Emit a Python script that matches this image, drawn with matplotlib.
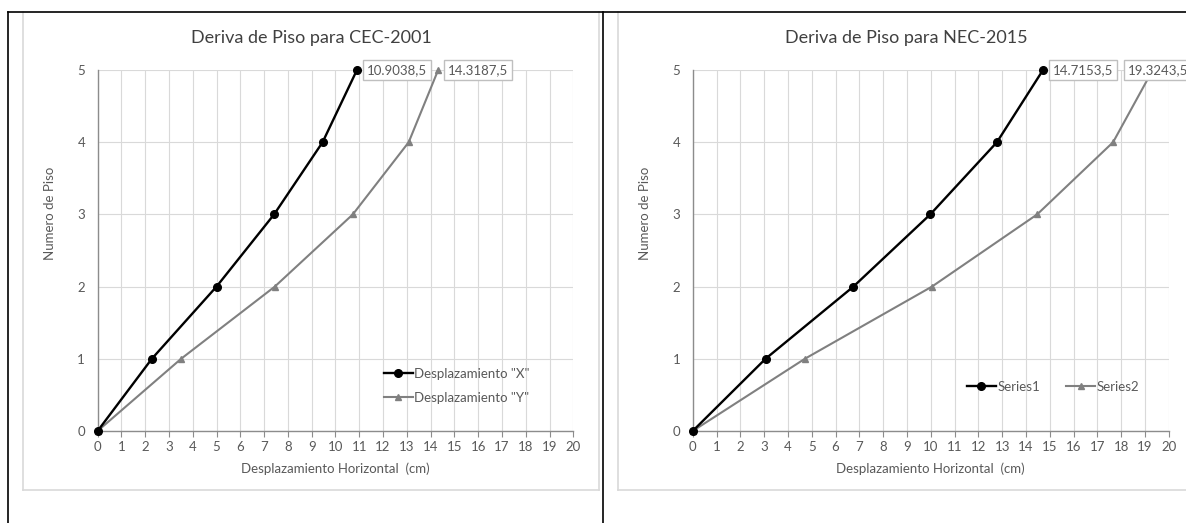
import numpy as np
import matplotlib.pyplot as plt
from matplotlib.lines import Line2D

plt.rcParams['font.family'] = ['Lato', 'DejaVu Sans']

# Pisos y desplazamientos (cm)
pisos = [0, 1, 2, 3, 4, 5]
cec_x = [0, 2.28, 5.0, 7.42, 9.46, 10.9038]
cec_y = [0, 3.51, 7.45, 10.73, 13.08, 14.3187]
nec_1 = [0, 3.06, 6.75, 9.98, 12.78, 14.7153]
nec_2 = [0, 4.71, 10.05, 14.47, 17.66, 19.3243]

titulos = ['Deriva de Piso para CEC-2001', 'Deriva de Piso para NEC-2015']
leyendas = [['Desplazamiento "X"', 'Desplazamiento "Y"'], ['Series1', 'Series2']]

GRIS_TXT = '#595959'
GRIS_EJE = '#8c8c8c'
GRIS_GRID = '#d9d9d9'

W, H = 1186, 523
fig = plt.figure(figsize=(W / 100, H / 100), dpi=100)

# marcos exteriores y cajas del grafico (en pixeles de la figura)
def px_line(x0, y0, x1, y1, color, lw):
    fig.add_artist(Line2D([x0 / W, x1 / W], [1 - y0 / H, 1 - y1 / H],
                          transform=fig.transFigure, color=color, lw=lw))

px_line(23, 12, 23, 490, GRIS_GRID, 1.2)
px_line(23, 490, 599, 490, GRIS_GRID, 1.2)
px_line(599, 12, 599, 490, GRIS_GRID, 1.2)
px_line(618, 12, 618, 490, GRIS_GRID, 1.2)
px_line(618, 490, W, 490, GRIS_GRID, 1.2)
px_line(8, 12, W, 12, 'black', 1.2)
px_line(8, 12, 8, H, 'black', 1.2)
px_line(603, 12, 603, H, 'black', 1.2)

ax1 = fig.add_axes([97.6 / W, 1 - 431 / H, 475.7 / W, 361 / H])
ax2 = fig.add_axes([692.7 / W, 1 - 431 / H, 476.1 / W, 361 / H])

datos = [(ax1, cec_x, cec_y, [(7, 0), (7, 0)]),
         (ax2, nec_1, nec_2, [(7, 0), (-28, 0)])]

for i, (ax, s1, s2, offs) in enumerate(datos):
    ax.plot(s1, pisos, color='black', lw=1.7, marker='o', ms=5.5,
            label=leyendas[i][0], zorder=4, clip_on=False)
    ax.plot(s2, pisos, color='#808080', lw=1.5, marker='^', ms=5,
            label=leyendas[i][1], zorder=3, clip_on=False)

    ax.set_xlim(0, 20)
    ax.set_ylim(0, 5)
    ax.set_xticks(np.arange(0, 21, 1))
    ax.set_yticks(np.arange(0, 6, 1))
    ax.grid(True, color=GRIS_GRID, lw=0.8)
    ax.set_axisbelow(True)
    for s in ['top', 'right']:
        ax.spines[s].set_visible(False)
    for s in ['left', 'bottom']:
        ax.spines[s].set_color(GRIS_EJE)
        ax.spines[s].set_linewidth(1.0)
    ax.tick_params(axis='x', direction='out', length=4, color=GRIS_EJE,
                   labelsize=9.5, labelcolor=GRIS_TXT, pad=3)
    ax.tick_params(axis='y', length=0, labelsize=9.5, labelcolor=GRIS_TXT, pad=9)

    ax.set_xlabel('Desplazamiento Horizontal  (cm)', fontsize=9.5, color=GRIS_TXT, va='top')
    ax.xaxis.set_label_coords(0.5, -0.088)
    ax.set_ylabel('Numero de Piso', fontsize=9.5, color=GRIS_TXT, va='center')
    ax.yaxis.set_label_coords(-0.1, 0.604)

    # etiquetas del ultimo piso
    for serie, off in zip([s1, s2], offs):
        ax.annotate(f'{serie[-1]:g},{pisos[-1]:g}', xy=(serie[-1], pisos[-1]),
                    xytext=(off[0] + 3, off[1]), textcoords='offset pixels',
                    ha='left', va='center', fontsize=9.5, color=GRIS_TXT,
                    annotation_clip=False, zorder=6,
                    bbox=dict(boxstyle='square,pad=0.3', fc='white',
                              ec='#bfbfbf', lw=1.0))

    if i == 0:
        ax.legend(loc='upper left', bbox_to_anchor=(0.59, 0.19), frameon=False,
                  fontsize=9.5, handlelength=2.2, handletextpad=0.1,
                  labelspacing=0.9, labelcolor=GRIS_TXT, borderaxespad=0)
    else:
        ax.legend(loc='center left', bbox_to_anchor=(0.565, 0.122), frameon=False,
                  fontsize=9.5, ncol=2, handlelength=2.2, handletextpad=0.1,
                  columnspacing=2.0, labelcolor=GRIS_TXT, borderaxespad=0)

fig.text(311 / W, 1 - 38 / H, titulos[0], ha='center', va='center',
         fontsize=13, color='#404040')
fig.text(906.8 / W, 1 - 38 / H, titulos[1], ha='center', va='center',
         fontsize=13, color='#404040')

fig.savefig('out.png', dpi=100)
